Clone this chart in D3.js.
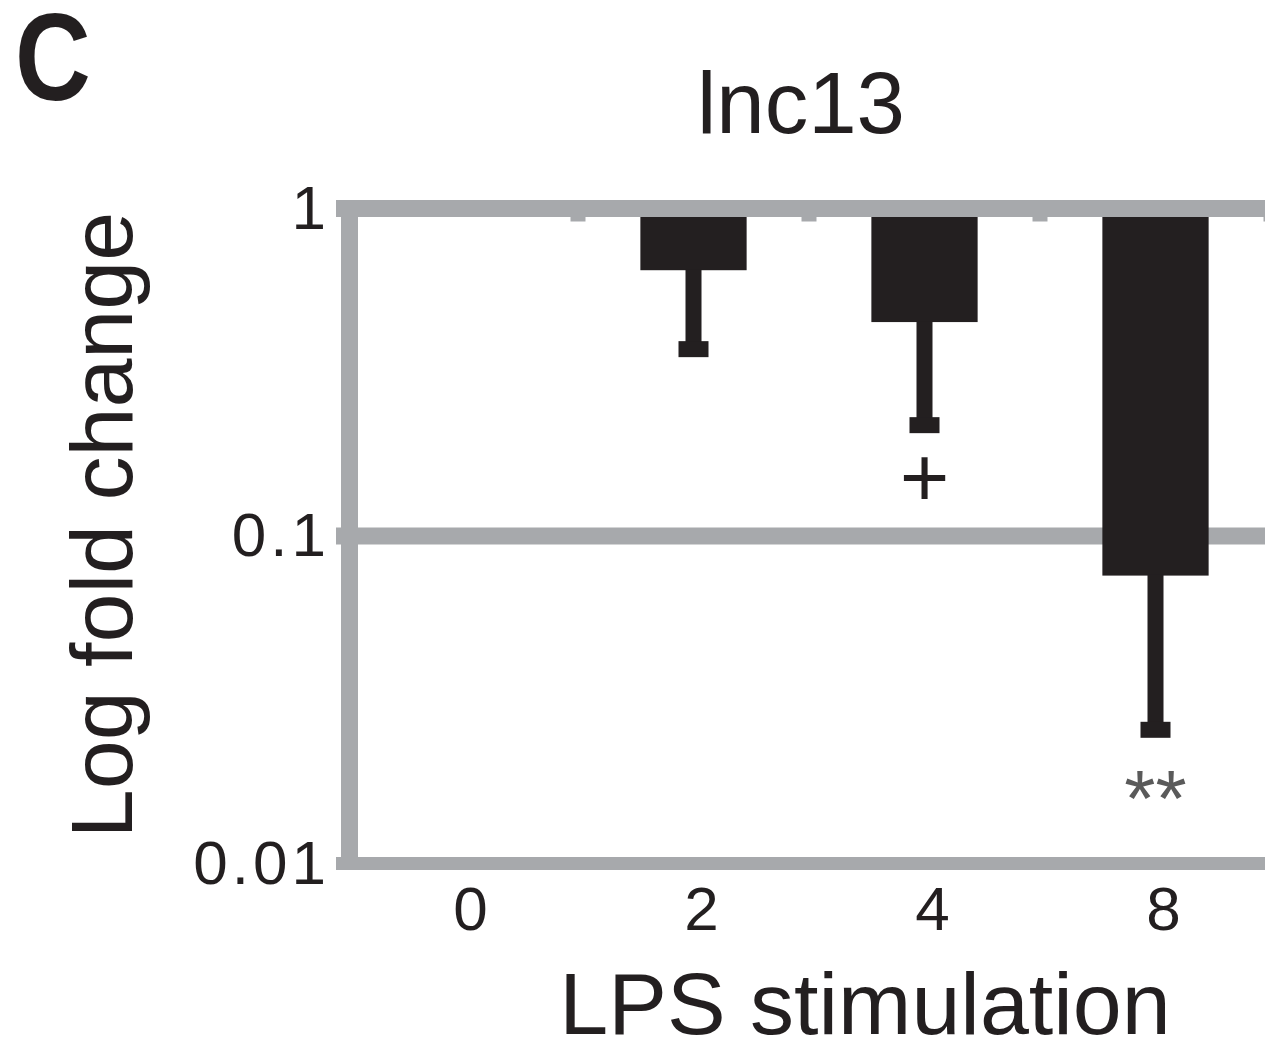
<!DOCTYPE html>
<html>
<head>
<meta charset="utf-8">
<script src="https://cdn.jsdelivr.net/npm/d3@7"></script>
<style>
  body { margin: 0; background: #fff; }
  svg { display: block; }
</style>
</head>
<body>
<svg id="chart"></svg>
<script>
// data
const categories = ["0", "2", "4", "8"];
const foldChange = [1, 0.648, 0.450, 0.0757];
const errorLow = [1, 0.372, 0.218, 0.0256];
const significance = ["", "", "+", "**"];
const yTicks = [1, 0.1, 0.01];

const width = 1265;
const height = 1040;
const margin = { top: 208.5, right: -6, bottom: 176.5, left: 347 };

const grey = "#a7a9ac";
const ink = "#231f20";
const font = "'Liberation Sans', Arial, Helvetica, sans-serif";

const svg = d3.select("#chart")
  .attr("width", width)
  .attr("height", height)
  .style("font-family", font);

// Scales
const xScale = d3.scaleBand()
  .domain(categories)
  .range([margin.left, width - margin.right])
  .paddingInner(0.54)
  .paddingOuter(0.27);

const yScale = d3.scaleLog()
  .domain([0.01, 1])
  .range([height - margin.bottom, margin.top]);

const rows = categories.map((c, i) => ({
  cat: c, value: foldChange[i], err: errorLow[i], sig: significance[i]
}));

// middle gridline (under the bars)
svg.append("g")
  .selectAll("line")
  .data(yTicks.filter(d => d !== 1 && d !== 0.01))
  .join("line")
  .attr("x1", margin.left - 11)
  .attr("x2", width + 10)
  .attr("y1", d => yScale(d))
  .attr("y2", d => yScale(d))
  .attr("stroke", grey)
  .attr("stroke-width", 17);

// Bars (hanging down from 1)
svg.append("g")
  .selectAll("rect")
  .data(rows.filter(d => d.value < 1))
  .join("rect")
  .attr("x", d => xScale(d.cat))
  .attr("width", xScale.bandwidth())
  .attr("y", yScale(1))
  .attr("height", d => yScale(d.value) - yScale(1))
  .attr("fill", ink);

// Error bars
const errG = svg.append("g").attr("fill", ink);
const withErr = rows.filter(d => d.err < d.value);
const cx = d => xScale(d.cat) + xScale.bandwidth() / 2;

errG.selectAll("rect.stem")
  .data(withErr)
  .join("rect")
  .attr("class", "stem")
  .attr("x", d => cx(d) - 8)
  .attr("width", 16)
  .attr("y", d => yScale(d.value) - 1)
  .attr("height", d => yScale(d.err) - yScale(d.value) + 1);

errG.selectAll("rect.cap")
  .data(withErr)
  .join("rect")
  .attr("class", "cap")
  .attr("x", d => cx(d) - 15)
  .attr("width", 30)
  .attr("y", d => yScale(d.err) - 8)
  .attr("height", 16);

// significance marks
svg.append("g")
  .selectAll("text")
  .data(withErr.filter(d => d.sig))
  .join("text")
  .attr("x", d => cx(d))
  .attr("y", d => yScale(d.err) + (d.sig === "+" ? 82 : 96))
  .attr("text-anchor", "middle")
  .attr("font-size", d => d.sig === "+" ? "85px" : "80px")
  .attr("fill", d => d.sig === "+" ? ink : "#5a5a5a")
  .text(d => d.sig);

// top (1) and bottom (0.01) lines, drawn over bars
svg.append("line")
  .attr("x1", margin.left - 11).attr("x2", width + 10)
  .attr("y1", yScale(1)).attr("y2", yScale(1))
  .attr("stroke", grey).attr("stroke-width", 17);

svg.append("line")
  .attr("x1", margin.left - 11).attr("x2", width + 10)
  .attr("y1", yScale(0.01)).attr("y2", yScale(0.01))
  .attr("stroke", grey).attr("stroke-width", 13);

// left axis line
svg.append("line")
  .attr("x1", margin.left + 2.5).attr("x2", margin.left + 2.5)
  .attr("y1", yScale(1)).attr("y2", yScale(0.01))
  .attr("stroke", grey).attr("stroke-width", 17);

// little category-boundary stubs under the top line
svg.append("g")
  .selectAll("line")
  .data(categories)
  .join("line")
  .attr("x1", d => xScale(d) + xScale.bandwidth() + xScale.step() * xScale.paddingOuter())
  .attr("x2", d => xScale(d) + xScale.bandwidth() + xScale.step() * xScale.paddingOuter())
  .attr("y1", yScale(1) + 8)
  .attr("y2", yScale(1) + 13)
  .attr("stroke", grey)
  .attr("stroke-width", 15);

// Axes (labels only)
const yAxis = d3.axisLeft(yScale).tickValues(yTicks).tickFormat(d => String(d)).tickSize(0);
svg.append("g")
  .attr("transform", `translate(${margin.left - 17}, 0)`)
  .call(yAxis)
  .call(g => g.select(".domain").remove())
  .selectAll("text")
  .attr("x", 0)
  .attr("font-size", "62px")
  .attr("letter-spacing", "4px")
  .attr("font-family", font)
  .attr("fill", ink);

const xAxis = d3.axisBottom(xScale).tickSize(0);
svg.append("g")
  .attr("transform", `translate(8, ${yScale(0.01)})`)
  .call(xAxis)
  .call(g => g.select(".domain").remove())
  .selectAll("text")
  .attr("y", 0)
  .attr("dy", "66px")
  .attr("font-size", "62px")
  .attr("font-family", font)
  .attr("fill", ink);

// Titles
svg.append("text")
  .attr("x", 801)
  .attr("y", 133)
  .attr("text-anchor", "middle")
  .attr("font-size", "87px")
  .attr("fill", ink)
  .text("lnc13");

svg.append("text")
  .attr("transform", "translate(15, 100) scale(0.84, 1)")
  .attr("font-size", "125px")
  .attr("font-weight", "bold")
  .attr("fill", ink)
  .text("C");

svg.append("text")
  .attr("transform", "translate(132, 525) rotate(-90)")
  .attr("text-anchor", "middle")
  .attr("font-size", "88px")
  .attr("fill", ink)
  .text("Log fold change");

svg.append("text")
  .attr("x", 865)
  .attr("y", 1034)
  .attr("text-anchor", "middle")
  .attr("font-size", "88px")
  .attr("fill", ink)
  .text("LPS stimulation");
</script>
</body>
</html>
